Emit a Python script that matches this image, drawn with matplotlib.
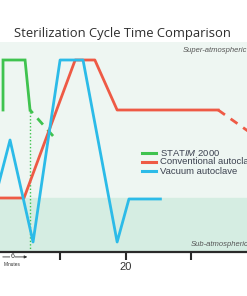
import matplotlib
matplotlib.use('Agg')
import matplotlib.pyplot as plt
from matplotlib.transforms import blended_transform_factory

plt.rcParams['font.family'] = ['Liberation Sans', 'DejaVu Sans']
plt.rcParams['mathtext.fontset'] = 'custom'
plt.rcParams['mathtext.rm'] = 'Liberation Sans'
plt.rcParams['mathtext.it'] = 'Liberation Sans:italic'

# time in minutes, pressure in arbitrary units (atmospheric = 54)
atm_level = 54

statim_t = [1.3, 1.3, 4.66, 5.42]
statim_p = [142, 192, 192, 142]
statim_tail_t = [5.42, 9.2]
statim_tail_p = [142, 114]

conv_t = [0.0, 4.5, 12.3, 15.3, 18.7, 34.1]
conv_p = [54, 54, 192, 192, 142, 142]
conv_tail_t = [34.1, 39.5]
conv_tail_p = [142, 117]

vac_t = [0.0, 2.37, 5.88, 8.17, 10.0, 13.5, 18.7, 20.5, 25.3]
vac_p = [52, 112, 10, 112, 192, 192, 10, 53, 53]

tick_pos = [10, 20, 30]
tick_lbl = ['', '20', '']

names = ['STAT$\\mathit{IM}$ 2000', 'Conventional autoclave', 'Vacuum autoclave']
colors = ['#3fc34f', '#ee5a45', '#2cbbe8']

fig = plt.figure(figsize=(2.47, 2.96), dpi=100)
ax = fig.add_axes([0, 1 - 252 / 296, 1, 210 / 296])
ax.set_xlim(0.84, 38.5)
ax.set_ylim(0, 210)
ax.set_facecolor('#eef6f2')
ax.axhspan(0, atm_level, color='#d5ede2', zorder=0)

lw = 2.0
ax.plot(statim_t, statim_p, color=colors[0], lw=lw, solid_joinstyle='miter')
ax.plot(statim_tail_t, statim_tail_p, color=colors[0], lw=lw, ls=(1.5, (3, 2.5)))
ax.plot([5.42, 5.42], [0, 142], color=colors[0], lw=1.0, ls=(0, (1, 1.5)))
ax.plot(conv_t, conv_p, color=colors[1], lw=lw)
ax.plot(conv_tail_t, conv_tail_p, color=colors[1], lw=lw, ls=(0, (3, 2.5)))
ax.plot(vac_t, vac_p, color=colors[2], lw=lw)

# legend drawn by hand
for i, (n, c) in enumerate(zip(names, colors)):
    y = 99 - 9 * i
    ax.plot([22.5, 24.7], [y, y], color=c, lw=2.2)
    ax.text(25.3, y, n, fontsize=6.8, color='#3c4250', va='center', ha='left')

ax.text(28.7, 202, 'Super-atmospheric', fontsize=5.5, style='italic', color='#555555', va='center')
ax.text(30.0, 7, 'Sub-atmospheric', fontsize=5.5, style='italic', color='#555555', va='center')

for s in ['top', 'left', 'right']:
    ax.spines[s].set_visible(False)
ax.spines['bottom'].set_color('#2a2a2a')
ax.spines['bottom'].set_linewidth(1.6)
ax.set_yticks([])
ax.set_xticks(tick_pos)
ax.set_xticklabels(tick_lbl, fontsize=8, color='#333333')
ax.tick_params(axis='x', length=6, width=1.5, color='#2a2a2a', pad=1)

# 6 minutes marker
tr = blended_transform_factory(ax.transData, fig.transFigure)
ax.annotate('', xy=(5.42, 0.132), xytext=(0.84, 0.132), xycoords=tr, textcoords=tr,
            arrowprops=dict(arrowstyle='-|>', color='#333333', lw=0.6, mutation_scale=4),
            annotation_clip=False)
ax.text(2.7, 0.132, '6', transform=tr, fontsize=5, color='#333333', ha='center', va='center',
        bbox=dict(facecolor='white', edgecolor='none', pad=0.3), clip_on=False)
ax.text(2.7, 0.108, 'Minutes', transform=tr, fontsize=3.4, color='#333333', ha='center', va='center',
        clip_on=False)

fig.text(0.494, 1 - 33 / 296, 'Sterilization Cycle Time Comparison', fontsize=9.4,
         family=['Open Sans', 'DejaVu Sans'], color='#2e2e2e', ha='center', va='center')

fig.savefig('out.png', dpi=100)
